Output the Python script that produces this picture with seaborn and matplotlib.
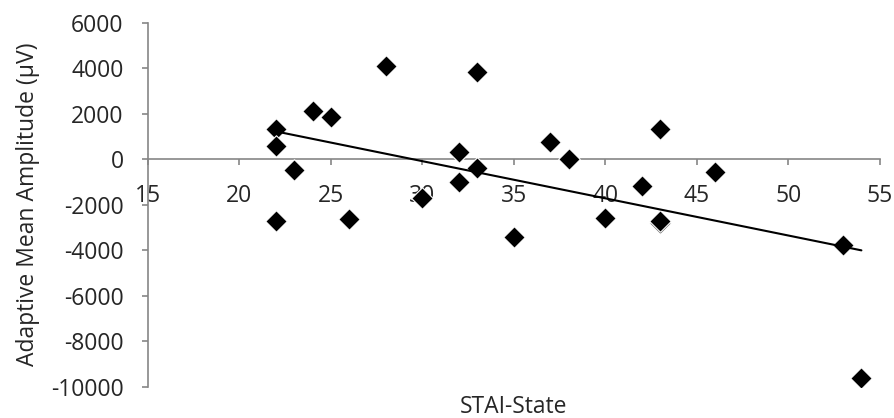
import numpy as np
import pandas as pd
import matplotlib
matplotlib.use("Agg")
import matplotlib.pyplot as plt
import seaborn as sns

# STAI-State score vs adaptive mean amplitude
stai_state = [22, 22, 22, 23, 24, 25, 26, 28, 30, 32, 32, 33, 33, 35, 37, 38,
              40, 42, 43, 43, 43, 46, 53, 54]
amplitude = [1310, 580, -2720, -480, 2110, 1870, -2640, 4100, -1720, 300, -990,
             3850, -380, -3410, 770, 30, -2600, -1180, 1310, -2820, -2700, -550,
             -3770, -9630]

x_ticks = [15, 20, 25, 30, 35, 40, 45, 50, 55]
y_ticks = [6000, 4000, 2000, 0, -2000, -4000, -6000, -8000, -10000]

df = pd.DataFrame({"STAI-State": stai_state, "Amplitude": amplitude})

sns.set_style("white")
plt.rcParams["font.family"] = ["Open Sans", "DejaVu Sans"]
plt.rcParams["axes.unicode_minus"] = False

axis_grey = "#868686"
fs = 16.5

fig = plt.figure(figsize=(8.94, 4.18), dpi=100)
ax = fig.add_axes([0.1655, 0.075, 0.8185, 0.8705])

sns.scatterplot(data=df, x="STAI-State", y="Amplitude", ax=ax, marker="D",
                s=120, color="black", edgecolor="white", linewidth=0.8, zorder=3)
sns.regplot(data=df, x="STAI-State", y="Amplitude", ax=ax, scatter=False,
            ci=None, color="black", line_kws={"linewidth": 1.5, "zorder": 4})

ax.set_xlim(15, 55)
ax.set_ylim(-10000, 6000)
ax.set_xticks(x_ticks)
ax.set_yticks(y_ticks)

ax.spines["top"].set_visible(False)
ax.spines["right"].set_visible(False)
ax.spines["bottom"].set_position(("data", 0))
for side in ["bottom", "left"]:
    ax.spines[side].set_color(axis_grey)
    ax.spines[side].set_linewidth(1.2)

ax.tick_params(axis="x", direction="out", length=4.5, width=1.2, color=axis_grey,
               labelsize=fs, pad=13, bottom=True)
ax.tick_params(axis="y", direction="out", length=4.5, width=1.2, color=axis_grey,
               labelsize=fs, pad=13, left=True)

ax.set_xlabel("STAI-State", fontsize=fs)
ax.set_ylabel("Adaptive Mean Amplitude (\u00b5V)", fontsize=fs)
ax.xaxis.set_label_coords(0.5, -0.022)
ax.yaxis.set_label_coords(-0.147, 0.5)

fig.savefig("out.png", dpi=100)
